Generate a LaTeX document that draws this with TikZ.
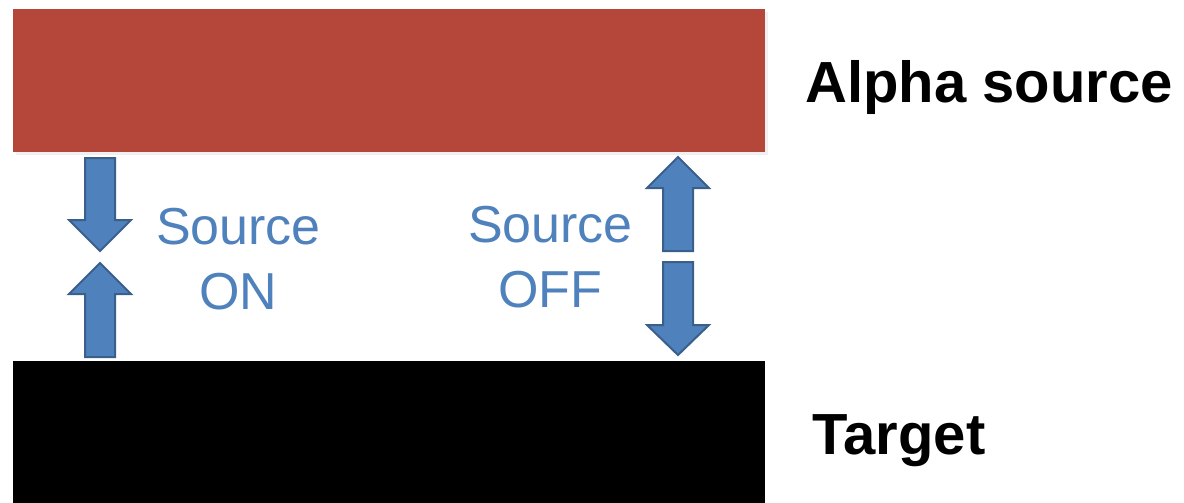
\documentclass[tikz,border=0pt]{standalone}
\usepackage{fontspec}
\setmainfont{Liberation Sans}
\usepackage{xcolor}
\usetikzlibrary{positioning}

\definecolor{srcred}{HTML}{B5473A}
\definecolor{arrblue}{HTML}{4F81BD}
\definecolor{arredge}{HTML}{3A5F8B}

\begin{document}
\begin{tikzpicture}[x=0.5pt, y=-0.5pt,
  slab/.style={rectangle, fill=#1, draw=none, inner sep=0pt,
    minimum width=376pt, minimum height=71.5pt},
  tag/.style={anchor=base west, inner sep=0pt, font=\fontsize{29}{34}\selectfont\bfseries},
  state/.style={align=center, inner sep=0pt, text=arrblue,
    font=\fontsize{26}{32.5}\selectfont},
  barrow/.style={fill=arrblue, draw=arredge, line width=1pt, line join=miter}
]
\useasboundingbox (0,0) rectangle (1184,503);
% source and target
\fill[black!6] (16,12) rectangle (768,155);
\node[slab=srcred] (source) at (389,80.5) {};
\node[slab=black, minimum height=71pt] (target) at (389,432) {};
\node[tag] (srclabel) at (805,102.7) {Alpha source};
\node[tag] (tgtlabel) at (812,454) {Target};
% labels between
\node[state] (on) at (238.5,259) {Source\\ON};
\node[state] (off) at (550.5,257) {Source\\OFF};
% left pair: source on
\draw[barrow] (85,158) -- (115,158) -- (115,220) -- (131,220) -- (100,251)
  -- (69,220) -- (85,220) -- cycle;
\draw[barrow] (85,357) -- (115,357) -- (115,294) -- (131,294) -- (100,263)
  -- (69,294) -- (85,294) -- cycle;
% right pair: source off
\draw[barrow] (663,251) -- (693,251) -- (693,188) -- (709,188) -- (678,157)
  -- (647,188) -- (663,188) -- cycle;
\draw[barrow] (663,262) -- (693,262) -- (693,325) -- (709,325) -- (678,355)
  -- (647,325) -- (663,325) -- cycle;
\end{tikzpicture}
\end{document}
